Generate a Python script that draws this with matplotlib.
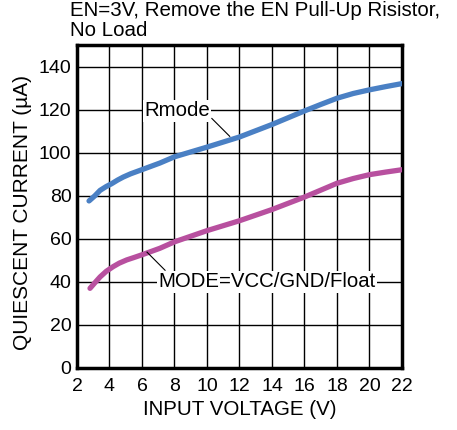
import numpy as np
import matplotlib
matplotlib.use("Agg")
import matplotlib.pyplot as plt

plt.rcParams['font.family'] = ['Liberation Sans', 'DejaVu Sans']

# Quiescent current vs input voltage
vin_rmode = [2.74, 3.1, 3.42, 3.8, 4.13, 4.5, 4.85, 5.3, 5.88, 7.1, 8, 10, 12, 14, 16, 17, 18, 19, 20, 21, 22]
iq_rmode = [77.6, 80.0, 82.5, 84.3, 85.6, 87.3, 88.7, 90.2, 91.8, 95.2, 98.1, 102.6, 107.3, 113.1, 119.4, 122.4, 125.3, 127.5, 129.2, 130.7, 132.1]

vin_mode = [2.8, 3.1, 3.42, 3.8, 4.23, 4.6, 5.06, 5.5, 6.08, 7.1, 8, 10, 12, 14, 16, 17, 18, 19, 20, 21, 22]
iq_mode = [37.0, 39.6, 42.3, 44.9, 47.1, 48.7, 50.2, 51.3, 52.8, 55.6, 58.6, 63.8, 68.4, 73.6, 79.4, 82.6, 85.8, 88.0, 89.8, 91.0, 92.1]

xticks = list(range(2, 23, 2))
yticks = list(range(0, 141, 20))

BLUE = '#4a80c4'
MAGENTA = '#b8509f'

fig = plt.figure(figsize=(4.57, 4.30), dpi=100)
ax = fig.add_axes([0.1685, 0.1442, 0.711, 0.751])

ax.set_xlim(2, 22)
ax.set_ylim(0, 150)
ax.set_xticks(xticks)
ax.set_yticks(yticks)
ax.tick_params(axis='x', length=0, labelsize=14, pad=7)
ax.tick_params(axis='y', length=0, labelsize=14, pad=4)
ax.grid(True, color='black', linewidth=1.0)
ax.set_axisbelow(True)
for s in ax.spines.values():
    s.set_linewidth(2.5)

ax.plot(vin_rmode, iq_rmode, color=BLUE, linewidth=3.8, solid_capstyle='round',
        solid_joinstyle='round', zorder=3)
ax.plot(vin_mode, iq_mode, color=MAGENTA, linewidth=3.8, solid_capstyle='round',
        solid_joinstyle='round', zorder=3)

# callouts
ax.plot([10.3, 11.4], [115.9, 107.6], color='black', linewidth=0.8, zorder=4)
ax.text(8.15, 119.5, 'Rmode', fontsize=14.7, ha='center', va='center', zorder=4,
        bbox=dict(facecolor='white', edgecolor='none', pad=1))
ax.plot([7.42, 6.31], [45.4, 53.8], color='black', linewidth=0.8, zorder=4)
ax.text(13.72, 40, 'MODE=VCC/GND/Float', fontsize=14.7, ha='center', va='center', zorder=4,
        bbox=dict(facecolor='white', edgecolor='none', pad=1))

ax.set_xlabel('INPUT VOLTAGE (V)', fontsize=14.8)
ax.xaxis.set_label_coords(0.5, -0.10)
ax.set_ylabel('QUIESCENT CURRENT (µA)', fontsize=15)
ax.yaxis.set_label_coords(-0.137, 0.481)

fig.text(0.153, 0.976, 'EN=3V, Remove the EN Pull-Up Risistor,', fontsize=14.75,
         ha='left', va='center')
fig.text(0.153, 0.929, 'No Load', fontsize=14.75, ha='left', va='center')

fig.savefig('out.png', dpi=100)
